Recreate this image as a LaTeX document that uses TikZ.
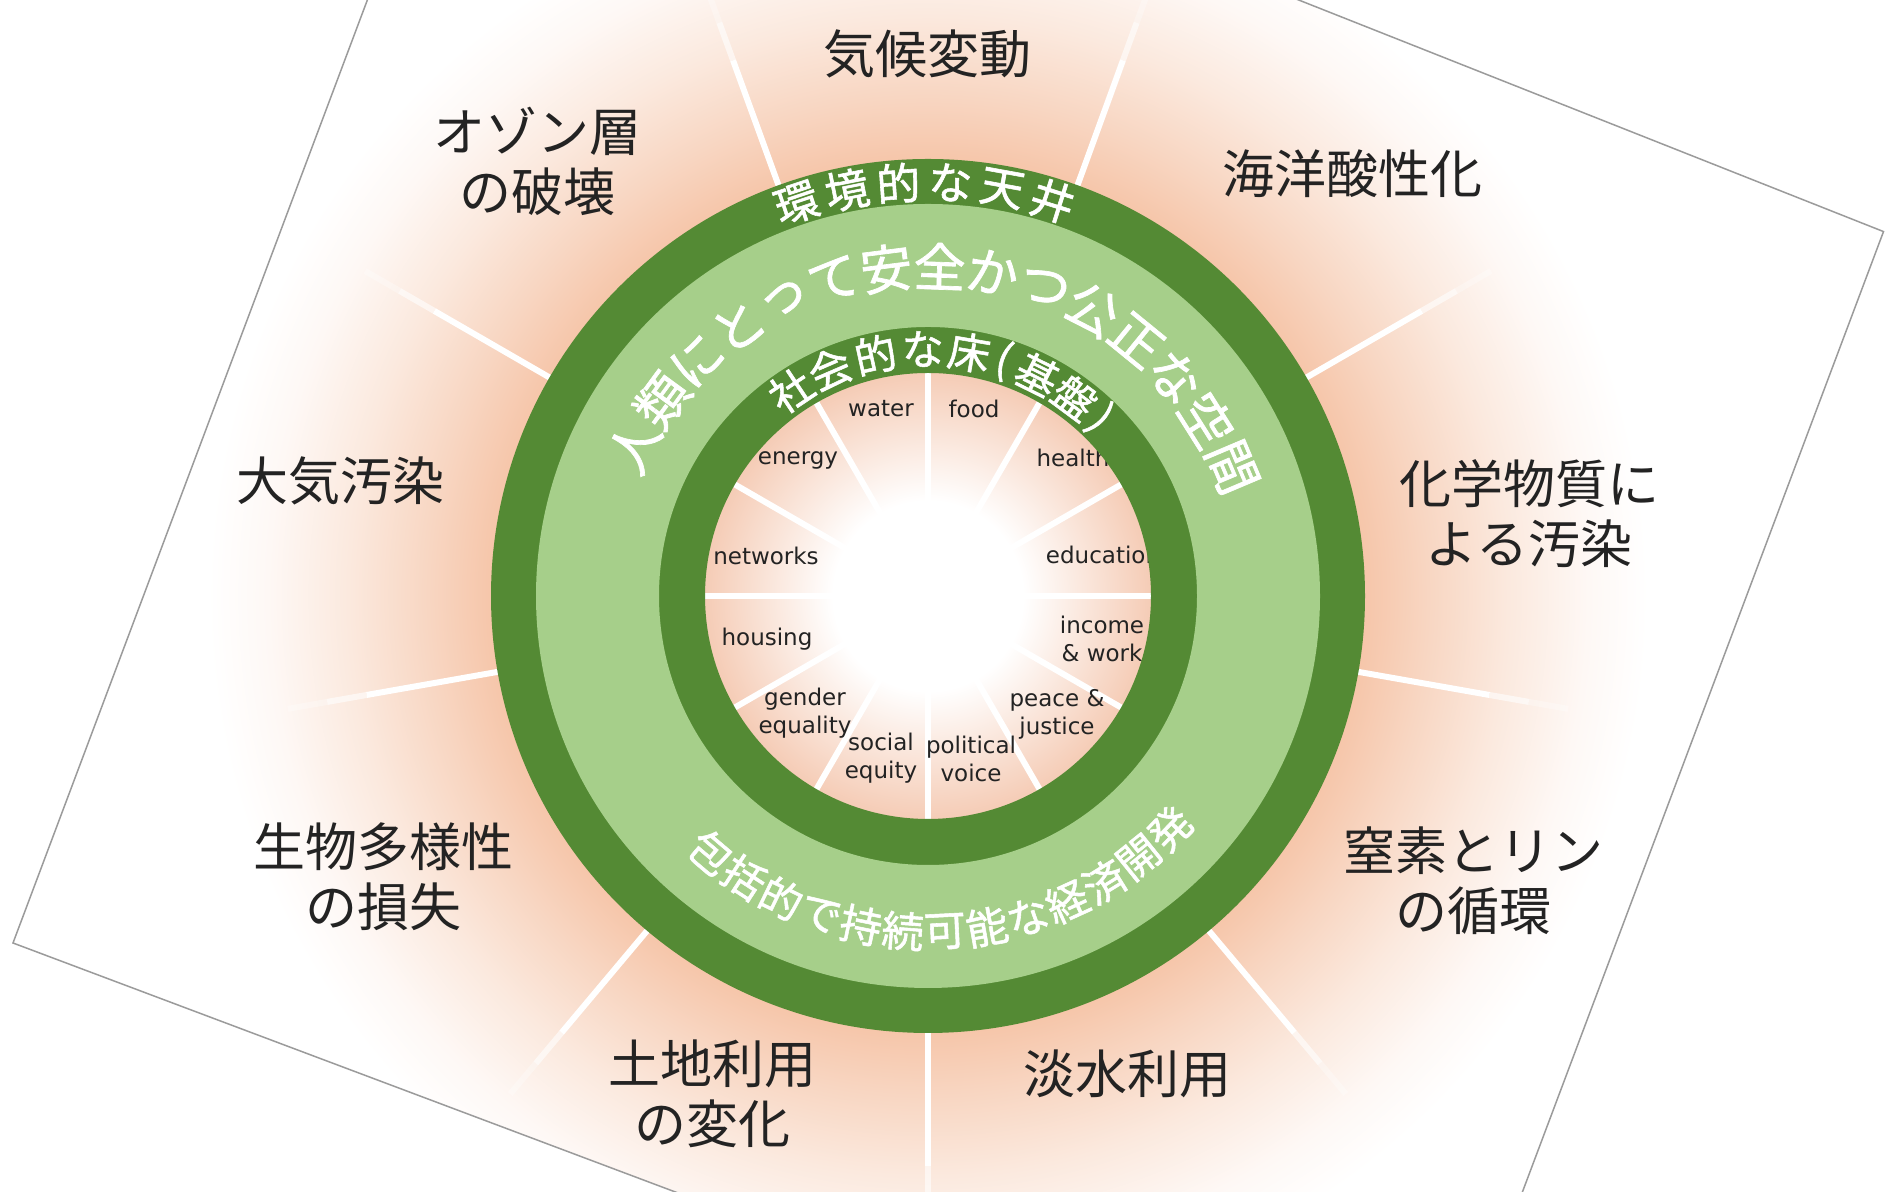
\documentclass[tikz,border=0pt]{standalone}
\usepackage{fontspec}
\newfontfamily\jp{Noto Sans CJK JP}
\newfontfamily\jpb[FakeBold=1.3]{Noto Sans CJK JP}
\newfontfamily\lab{DejaVu Sans}
\definecolor{darkg}{RGB}{84,138,52}
\definecolor{lightg}{RGB}{166,207,138}
\definecolor{pA}{RGB}{245,204,182}
\definecolor{pB}{RGB}{246,198,170}
\definecolor{pC}{RGB}{248,214,194}
\definecolor{pD}{RGB}{251,233,222}
\definecolor{pE}{RGB}{254,248,245}
\definecolor{bordergray}{RGB}{155,155,155}
\definecolor{ink}{RGB}{35,35,35}
\pgfdeclareradialshading{glow}{\pgfpoint{0bp}{0bp}}{color(0bp)=(white); color(3.3bp)=(white); color(7.74bp)=(pA); color(15.17bp)=(pB); color(17.36bp)=(pC); color(20.14bp)=(pD); color(22.92bp)=(pE); color(25bp)=(white); color(50bp)=(white)}
\begin{document}
\begin{tikzpicture}[x=0.5pt,y=0.5pt,
  outerlab/.style={font=\jp\fontsize{26}{30}\selectfont, text=ink, align=center, inner sep=0pt},
  innerlab/.style={font=\lab\fontsize{11.5}{14}\selectfont, text=ink, align=center, inner sep=0pt},
  ringtxt/.style={font=\jpb\fontsize{#1}{#1}\selectfont, text=white, inner sep=0pt},
  ospoke/.style={white, line width=3pt},
  ispoke/.style={white, line width=3pt}]
\useasboundingbox (0,0) rectangle (1885,1192);
\fill[white] (0,0) rectangle (1885,1192);
\coordinate (TL) at (488,1513);
\coordinate (TR) at (1883.5,960.4);
\coordinate (BR) at (1417.5,-279);
\coordinate (BL) at (13,249);
\begin{scope}
  \clip (TL) -- (TR) -- (BR) -- (BL) -- cycle;
  \shade[shading=glow] (928,596) circle[radius=360pt];
\end{scope}
\begin{scope}[shift={(928,596)}]
  % outer spokes
  \foreach \a in {30,70,...,350} {
    \draw[ospoke] (\a:430) -- (\a:570);
    \draw[ospoke, opacity=0.6] (\a:570) -- (\a:610);
    \draw[ospoke, opacity=0.3] (\a:610) -- (\a:650);
  }
  % inner spokes
  \foreach \a in {0,30,...,330} \draw[ispoke] (\a:60) -- (\a:226);
  % inner labels (under the ring)
  \node[innerlab] (water) at (-47,187) {water};
  \node[innerlab] (food) at (46,187) {food};
  \node[innerlab] (energy) at (-130,136) {energy};
  \node[innerlab] (health) at (145,138) {health};
  \node[innerlab] (networks) at (-162,40) {networks};
  \node[innerlab] (education) at (175,41) {education};
  \node[innerlab] (housing) at (-161,-43) {housing};
  \node[innerlab] (income) at (174,-43) {income\\\& work};
  \node[innerlab] (gender) at (-123,-117) {gender\\equality};
  \node[innerlab] (peace) at (129,-118.5) {peace \&\\justice};
  \node[innerlab] (social) at (-47,-162.5) {social\\equity};
  \node[innerlab] (political) at (43,-163) {political\\voice};
  % rings
  \fill[darkg, even odd rule] (0,0) circle[radius=218.5pt] (0,0) circle[radius=111.5pt];
  \fill[lightg, even odd rule] (0,0) circle[radius=196pt] (0,0) circle[radius=134.5pt];
  % ring texts
  \foreach \c [count=\i from 0] in {環,境,的,な,天,井}
    \node[ringtxt=22, rotate={108.5-\i*7.2-90}] (ce\i) at ({108.5-\i*7.2}:414) {\c};
  \foreach \c [count=\i from 0] in {人,類,に,と,っ,て,安,全,か,つ,公,正,な,空,間}
    \node[ringtxt=26, rotate={153-\i*9.29-90}] (cs\i) at ({153-\i*9.29}:330) {\c};
  \foreach \c/\a in {社/123.7,会/113.4,的/102.3,な/91.2,床/80.4,基/63.7,盤/53.5}
    \node[ringtxt=21, rotate={\a-90}] (cf\a) at (\a:247) {\c};
  \node[ringtxt=21, rotate={72.2-90}] (cfl) at (72.2:247) {(};
  \node[ringtxt=21, rotate={45.7-90}] (cfr) at (45.7:247) {)};
  \foreach \c [count=\i from 0] in {包,括,的,で,持,続,可,能,な,経,済,開,発}
    \node[ringtxt=21, rotate={229.7+\i*7.2+90}] (cb\i) at ({229.7+\i*7.2}:336) {\c};
\end{scope}
% outer labels
\node[outerlab] (climate) at (927,1138) {気候変動};
\node[outerlab] (ozone) at (537,1031) {オゾン層\\の破壊};
\node[outerlab] (ocean) at (1352,1018) {海洋酸性化};
\node[outerlab] (air) at (340,711) {大気汚染};
\node[outerlab] (chem) at (1529,678) {化学物質に\\よる汚染};
\node[outerlab] (bio) at (383,315) {生物多様性\\の損失};
\node[outerlab] (nitro) at (1473,311) {窒素とリン\\の循環};
\node[outerlab] (fresh) at (1127,118) {淡水利用};
\node[outerlab] (land) at (712,98) {土地利用\\の変化};
\draw[bordergray, line width=0.75pt] (TL) -- (TR) -- (BR) -- (BL) -- cycle;
\end{tikzpicture}
\end{document}
